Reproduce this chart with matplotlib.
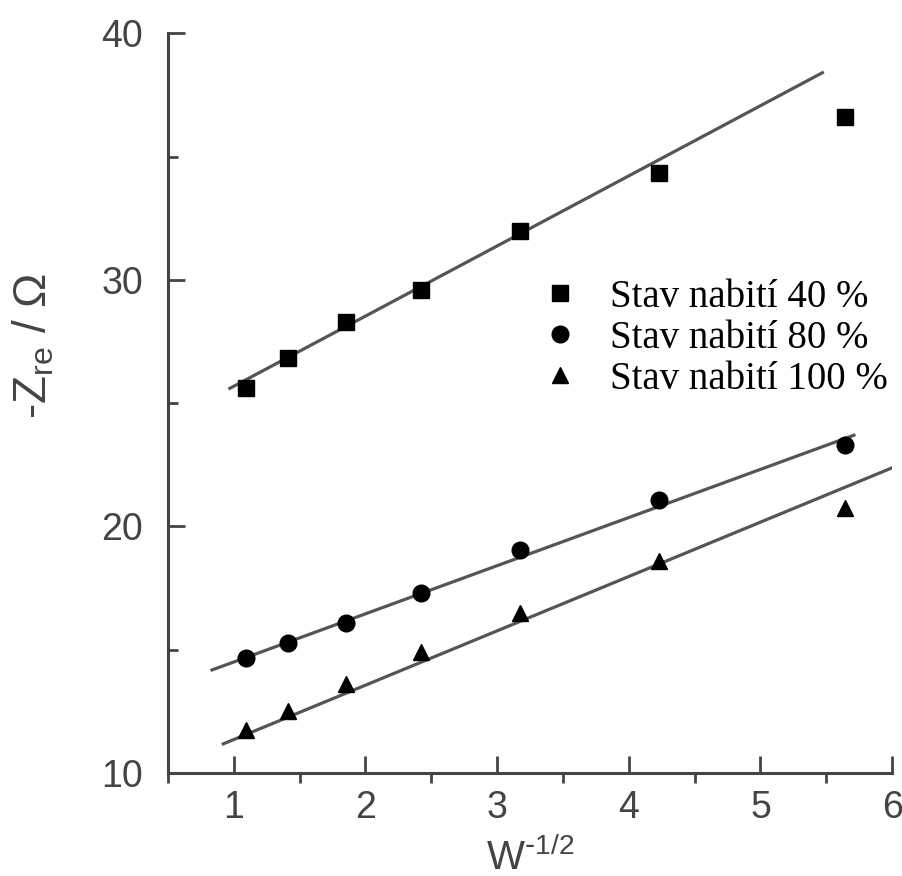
import matplotlib.pyplot as plt
from matplotlib.ticker import MultipleLocator

# Data
x = [1.09, 1.41, 1.85, 2.42, 3.17, 4.23, 5.64]
soc_40 = [25.6, 26.85, 28.3, 29.6, 32.0, 34.35, 36.6]
soc_80 = [14.66, 15.27, 16.08, 17.3, 19.04, 21.07, 23.3]
soc_100 = [11.74, 12.5, 13.6, 14.9, 16.5, 18.6, 20.74]

# fitted lines (end points)
fit40_x, fit40_y = [0.97, 5.47], [25.6, 38.4]
fit80_x, fit80_y = [0.835, 5.71], [14.18, 23.7]
fit100_x, fit100_y = [0.92, 6.01], [11.18, 22.4]

labels = ['Stav nabití 40 %', 'Stav nabití 80 %', 'Stav nabití 100 %']

fig = plt.figure(figsize=(9.03, 8.76), dpi=100)
ax = fig.add_axes([0.186, 0.1176, 0.802, 0.8444])

line_c = '#555555'
ax.plot(fit40_x, fit40_y, color=line_c, lw=2.3)
ax.plot(fit80_x, fit80_y, color=line_c, lw=2.3)
ax.plot(fit100_x, fit100_y, color=line_c, lw=2.3)

ax.plot(x, soc_40, 's', color='black', ms=11, label=labels[0])
ax.plot(x, soc_80, 'o', color='black', ms=12, label=labels[1])
ax.plot(x, soc_100, '^', color='black', ms=12, label=labels[2])

ax.set_xlim(0.5, 6)
ax.set_ylim(10, 40)
ax.xaxis.set_major_locator(MultipleLocator(1))
ax.xaxis.set_minor_locator(MultipleLocator(0.5))
ax.yaxis.set_major_locator(MultipleLocator(10))
ax.yaxis.set_minor_locator(MultipleLocator(5))

spine_c = '#444444'
for s in ['top', 'right']:
    ax.spines[s].set_visible(False)
for s in ['left', 'bottom']:
    ax.spines[s].set_color(spine_c)
    ax.spines[s].set_linewidth(2.2)

# major ticks point inward, x minor ticks outward (as in the original)
ax.tick_params(axis='x', which='major', direction='in', length=12, width=2,
               color=spine_c, labelcolor=spine_c, labelsize=27, pad=12)
ax.tick_params(axis='x', which='minor', direction='out', length=7, width=2, color=spine_c)
ax.tick_params(axis='y', which='major', direction='in', length=12, width=2,
               color=spine_c, labelcolor=spine_c, labelsize=27, pad=18)
ax.tick_params(axis='y', which='minor', direction='in', length=7, width=2, color=spine_c)
for lab in ax.get_xticklabels() + ax.get_yticklabels():
    lab.set_family('Liberation Sans')

ax.set_xlabel(r'W$^{\text{-}\mathregular{1/2}}$', fontsize=29, color=spine_c,
              family='Liberation Sans')
ax.xaxis.set_label_coords(0.5, -0.087, transform=ax.transAxes)
ax.xaxis.label.set_va('top')
ax.set_ylabel(r'-Z$_{\mathregular{re}}$ / Ω', fontsize=33, color=spine_c,
              family='Liberation Sans')
ax.yaxis.set_label_coords(-0.186, 0.578)
ax.yaxis.label.set_va('center')

ax.legend(loc='upper left', bbox_to_anchor=(0.525, 0.668), frameon=False,
          prop={'family': 'Liberation Serif', 'size': 28}, handlelength=0.6,
          handletextpad=1.0, labelspacing=0.1, borderpad=0, borderaxespad=0)

fig.savefig('out.png', dpi=100)
